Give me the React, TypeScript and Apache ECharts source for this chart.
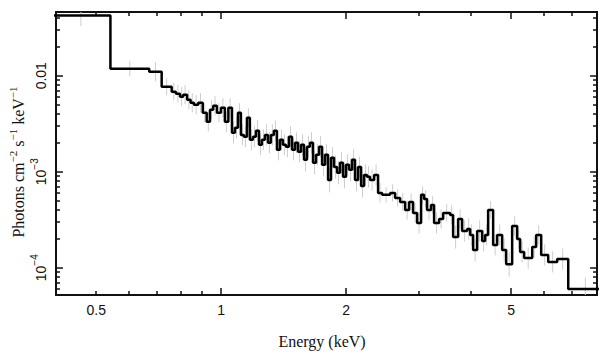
import React, { useEffect, useRef } from 'react';
import * as echarts from 'echarts';

// Bin edges (keV) of the unfolded spectrum
const binEdges = [
  0.39, 0.541, 0.671, 0.719, 0.760, 0.778, 0.796, 0.810, 0.828, 0.844,
  0.860, 0.881, 0.903, 0.923, 0.940, 0.957, 0.977, 0.999, 1.021, 1.041,
  1.062, 1.080, 1.098, 1.116, 1.135, 1.154, 1.173, 1.193, 1.213, 1.234,
  1.254, 1.275, 1.297, 1.318, 1.340, 1.363, 1.386, 1.409, 1.433, 1.457,
  1.482, 1.507, 1.532, 1.558, 1.584, 1.610, 1.637, 1.665, 1.693, 1.722,
  1.751, 1.780, 1.810, 1.840, 1.871, 1.903, 1.934, 1.967, 2.000, 2.034,
  2.068, 2.102, 2.138, 2.174, 2.210, 2.247, 2.285, 2.337, 2.389, 2.443,
  2.554, 2.626, 2.700, 2.776, 2.838, 2.901, 2.967, 3.033, 3.084, 3.135,
  3.206, 3.260, 3.352, 3.428, 3.563, 3.623, 3.725, 3.809, 3.916, 3.982,
  4.048, 4.140, 4.256, 4.327, 4.400, 4.524, 4.626, 4.756, 4.863, 5.027,
  5.168, 5.255, 5.373, 5.619, 5.744, 5.906, 6.140, 6.455, 6.862, 8.3,
];

// Flux per bin (photons cm^-2 s^-1 keV^-1)
const fluxValues = [
  4.23e-2, 1.18e-2, 1.10e-2, 7.68e-3, 6.80e-3, 6.49e-3, 6.04e-3, 6.34e-3, 5.62e-3, 5.23e-3,
  4.98e-3, 5.23e-3, 4.11e-3, 3.31e-3, 4.42e-3, 4.86e-3, 4.11e-3, 4.63e-3, 3.31e-3, 4.63e-3,
  2.54e-3, 2.87e-3, 4.11e-3, 2.42e-3, 2.31e-3, 3.65e-3, 2.15e-3, 2.31e-3, 2.67e-3, 1.91e-3,
  2.15e-3, 2.42e-3, 2.00e-3, 2.42e-3, 2.67e-3, 1.69e-3, 2.15e-3, 1.91e-3, 1.82e-3, 2.31e-3,
  1.69e-3, 2.00e-3, 1.61e-3, 1.91e-3, 1.33e-3, 1.82e-3, 2.00e-3, 1.24e-3, 1.50e-3, 1.82e-3,
  1.18e-3, 1.50e-3, 8.22e-4, 1.40e-3, 1.12e-3, 9.73e-4, 1.24e-3, 8.84e-4, 1.18e-3, 1.05e-3,
  1.33e-3, 8.22e-4, 1.12e-3, 7.12e-4, 9.27e-4, 8.84e-4, 8.22e-4, 9.27e-4, 6.02e-4, 5.74e-4,
  6.02e-4, 5.33e-4, 4.84e-4, 4.00e-4, 4.84e-4, 3.72e-4, 2.92e-4, 5.74e-4, 5.21e-4, 4.00e-4,
  4.51e-4, 2.92e-4, 3.22e-4, 3.72e-4, 3.55e-4, 2.09e-4, 3.22e-4, 2.42e-4, 2.53e-4, 2.19e-4,
  1.53e-4, 2.42e-4, 1.90e-4, 2.19e-4, 4.00e-4, 1.73e-4, 2.19e-4, 1.53e-4, 1.09e-4, 2.72e-4,
  1.99e-4, 1.46e-4, 1.26e-4, 1.64e-4, 2.19e-4, 1.36e-4, 1.15e-4, 1.23e-4, 6.00e-5,
];

// Half-length of each error bar, in decades
const errDex = [
  0.11, 0.08, 0.10, 0.09, 0.09, 0.09, 0.10, 0.10, 0.10, 0.10,
  0.10, 0.10, 0.10, 0.10, 0.10, 0.10, 0.10, 0.10, 0.11, 0.10,
  0.11, 0.11, 0.10, 0.11, 0.11, 0.10, 0.11, 0.11, 0.11, 0.11,
  0.11, 0.11, 0.11, 0.11, 0.11, 0.11, 0.11, 0.11, 0.11, 0.11,
  0.11, 0.11, 0.11, 0.11, 0.12, 0.11, 0.11, 0.12, 0.11, 0.11,
  0.12, 0.11, 0.13, 0.11, 0.12, 0.12, 0.11, 0.12, 0.11, 0.12,
  0.11, 0.12, 0.11, 0.12, 0.11, 0.11, 0.11, 0.11, 0.10, 0.08,
  0.09, 0.09, 0.09, 0.10, 0.09, 0.10, 0.11, 0.09, 0.09, 0.10,
  0.09, 0.11, 0.10, 0.09, 0.10, 0.12, 0.10, 0.11, 0.11, 0.11,
  0.12, 0.11, 0.11, 0.11, 0.09, 0.11, 0.11, 0.12, 0.13, 0.10,
  0.10, 0.11, 0.11, 0.11, 0.10, 0.11, 0.11, 0.11, 0.12,
];

const xMin = 0.4;
const xMax = 8.05;
const yMin = 5.2e-5;
const yMax = 0.0461;

const xLabelValues = [0.5, 1, 2, 5];
const xMajorTicks = [1, 2, 5];
const xMinorTicks = [0.5, 0.6, 0.7, 0.8, 0.9, 3, 4, 6, 7];
const yLabelValues = [1e-4, 1e-3, 1e-2];
const yMajorTicks = [1e-4, 1e-3, 1e-2];
const yMinorTicks = [
  6e-5, 7e-5, 8e-5, 9e-5,
  2e-4, 3e-4, 4e-4, 5e-4, 6e-4, 7e-4, 8e-4, 9e-4,
  2e-3, 3e-3, 4e-3, 5e-3, 6e-3, 7e-3, 8e-3, 9e-3,
  0.02, 0.03, 0.04,
];

const xTitle = 'Energy (keV)';
const yTitle = 'Photons cm{s|−2} s{s|−1} keV{s|−1}';

const SANS = 'Liberation Sans';
const SERIF = 'Liberation Serif';

export default function App() {
  const ref = useRef<HTMLDivElement>(null);

  useEffect(() => {
    if (!ref.current) return;
    const chart = echarts.init(ref.current, undefined, { renderer: 'svg' });

    const lineData = binEdges.map((e, i) => [e, fluxValues[Math.min(i, fluxValues.length - 1)]]);
    const errData = fluxValues.map((f, i) => {
      const c = Math.sqrt(binEdges[i] * binEdges[i + 1]);
      const k = Math.pow(10, errDex[i]);
      return [c, f / k, f * k];
    });

    const axisLine = { show: true, lineStyle: { color: '#111', width: 2 } };
    const tickStyle = { color: '#111', width: 1.5 };

    const xBase = (position: string, ticks: number[], len: number, labels: boolean) => ({
      type: 'log',
      logBase: 10,
      min: xMin,
      max: xMax,
      position,
      axisLine,
      splitLine: { show: false },
      axisTick: { show: true, inside: true, length: len, lineStyle: tickStyle, customValues: ticks },
      axisLabel: labels
        ? {
            show: true,
            customValues: xLabelValues,
            formatter: (v: number) => String(Math.round(v * 10) / 10),
            fontSize: 14,
            fontFamily: SANS,
            color: '#111',
            margin: 8,
          }
        : { show: false },
    });

    const yBase = (position: string, ticks: number[], len: number, labels: boolean) => ({
      type: 'log',
      logBase: 10,
      min: yMin,
      max: yMax,
      position,
      axisLine,
      splitLine: { show: false },
      axisTick: { show: true, inside: true, length: len, lineStyle: tickStyle, customValues: ticks },
      axisLabel: labels
        ? {
            show: true,
            customValues: yLabelValues,
            rotate: 90,
            margin: 8,
            color: '#111',
            fontSize: 14,
            fontFamily: SANS,
            formatter: (v: number) => {
              const e = Math.round(Math.log10(v));
              if (e === -2) return '{n|0.01}';
              return `{n|10}{s|−${-e}}`;
            },
            rich: {
              n: { fontSize: 14, fontFamily: SANS, color: '#111', lineHeight: 19, verticalAlign: 'bottom' },
              s: { fontSize: 10, fontFamily: SANS, color: '#111', lineHeight: 10, verticalAlign: 'top' },
            },
          }
        : { show: false },
    });

    chart.setOption({
      animation: false,
      backgroundColor: '#fff',
      grid: { left: 56, right: 12, top: 12, bottom: 62, containLabel: false, outerBoundsMode: 'none' },
      xAxis: [
        xBase('bottom', xMajorTicks, 7, true),
        xBase('bottom', xMinorTicks, 4, false),
        xBase('top', xMajorTicks, 7, false),
        xBase('top', xMinorTicks, 4, false),
      ],
      yAxis: [
        yBase('left', yMajorTicks, 7, true),
        yBase('left', yMinorTicks, 4, false),
        yBase('right', yMajorTicks, 7, false),
        yBase('right', yMinorTicks, 4, false),
      ],
      series: [
        {
          type: 'custom',
          xAxisIndex: 0,
          yAxisIndex: 0,
          data: errData,
          encode: { x: 0, y: [1, 2] },
          silent: true,
          z: 1,
          renderItem: (params: any, api: any) => {
            const p1 = api.coord([api.value(0), api.value(1)]);
            const p2 = api.coord([api.value(0), api.value(2)]);
            const cs = params.coordSys;
            const top = cs.y;
            const bottom = cs.y + cs.height;
            const y1 = Math.min(Math.max(p1[1], top), bottom);
            const y2 = Math.min(Math.max(p2[1], top), bottom);
            return {
              type: 'line',
              shape: { x1: p1[0], y1, x2: p2[0], y2 },
              style: { stroke: '#cdcdcd', lineWidth: 1 },
            };
          },
        },
        {
          type: 'line',
          xAxisIndex: 0,
          yAxisIndex: 0,
          data: lineData,
          step: 'end',
          symbol: 'none',
          showSymbol: false,
          clip: true,
          z: 2,
          lineStyle: { color: '#000', width: 2.5 },
        },
      ],
      graphic: [
        {
          type: 'text',
          x: 322,
          y: 341,
          style: {
            text: xTitle,
            fontFamily: SERIF,
            fontSize: 16,
            fill: '#111',
            align: 'center',
            verticalAlign: 'middle',
          },
        },
        {
          type: 'text',
          x: 18,
          y: 162,
          rotation: Math.PI / 2,
          style: {
            text: yTitle,
            fontFamily: SERIF,
            fontSize: 16,
            fill: '#111',
            align: 'center',
            verticalAlign: 'middle',
            rich: {
              s: { fontSize: 11, fontFamily: SERIF, fill: '#111', verticalAlign: 'top', lineHeight: 11 },
            },
            lineHeight: 22,
          },
        },
      ],
    });

    return () => chart.dispose();
  }, []);

  return (
    <div
      ref={ref}
      style={{ position: 'fixed', left: 0, top: 0, width: 609, height: 357, background: '#fff' }}
    />
  );
}
